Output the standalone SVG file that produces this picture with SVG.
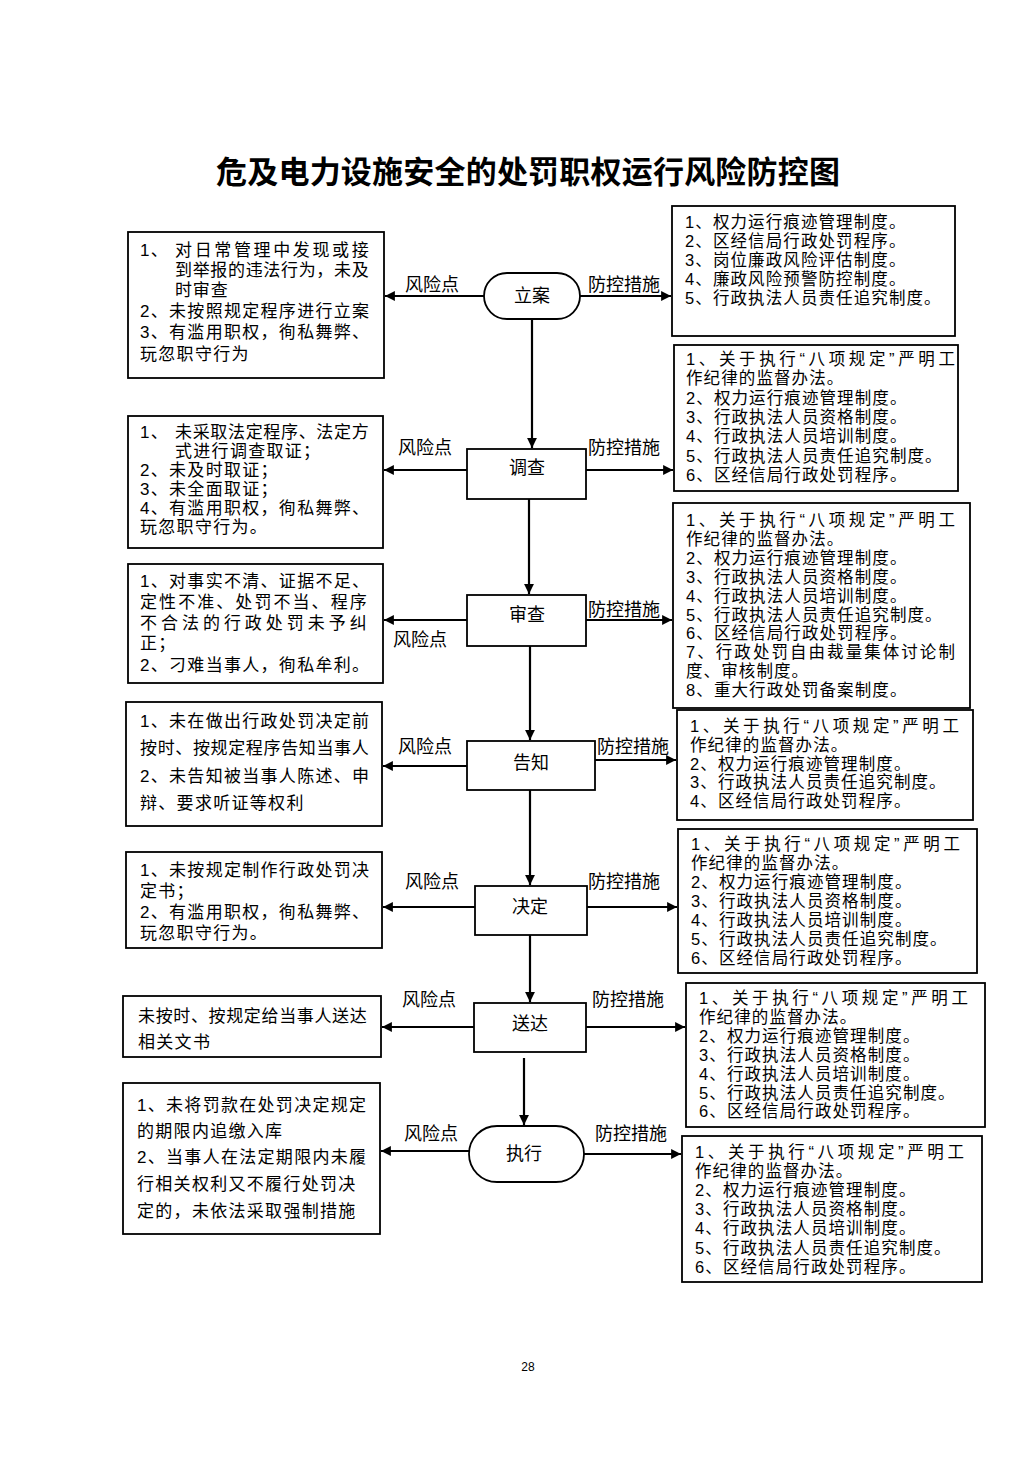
<svg xmlns="http://www.w3.org/2000/svg" width="1033" height="1461" viewBox="0 0 1033 1461">
<style>
.bg{fill:#fff}
.box{fill:#fff;stroke:#000;stroke-width:1.8}
.t{font-family:"Liberation Sans","Noto Sans CJK SC",sans-serif;font-size:17px;letter-spacing:1.3px;fill:#000}
.r{font-family:"Liberation Sans","Noto Sans CJK SC",sans-serif;font-size:16.5px;letter-spacing:1.1px;fill:#000}
.lb{font-family:"Liberation Sans","Noto Sans CJK SC",sans-serif;font-size:18px;fill:#000;text-anchor:middle}
.nd{font-family:"Liberation Sans","Noto Sans CJK SC",sans-serif;font-size:18px;fill:#000;text-anchor:middle}
.ttl{font-family:"Liberation Serif","Noto Sans CJK SC",serif;font-size:31px;font-weight:bold;fill:#000;text-anchor:middle}
.c{stroke:#000;stroke-width:2.2;fill:none}
</style>
<defs>
<marker id="ah" viewBox="0 0 10 10" refX="10" refY="5" markerWidth="5" markerHeight="4.5" orient="auto" markerUnits="strokeWidth">
<path d="M0,0 L10,5 L0,10 z" fill="#000"/>
</marker>
</defs>
<rect class="bg" x="0" y="0" width="1033" height="1461"/>
<text class="ttl" x="528" y="183" textLength="624" lengthAdjust="spacing">危及电力设施安全的处罚职权运行风险防控图</text>

<g id="connectors">
<line class="c" x1="532" y1="319" x2="532" y2="448" marker-end="url(#ah)"/>
<line class="c" x1="529" y1="499" x2="529" y2="594" marker-end="url(#ah)"/>
<line class="c" x1="530" y1="646" x2="530" y2="740" marker-end="url(#ah)"/>
<line class="c" x1="530" y1="790" x2="530" y2="885" marker-end="url(#ah)"/>
<line class="c" x1="530" y1="935" x2="530" y2="1002" marker-end="url(#ah)"/>
<line class="c" x1="524" y1="1058" x2="524" y2="1125" marker-end="url(#ah)"/>

<line class="c" x1="484" y1="296" x2="385" y2="296" marker-end="url(#ah)"/>
<line class="c" x1="580" y1="296" x2="671" y2="296" marker-end="url(#ah)"/>
<line class="c" x1="467" y1="470" x2="384" y2="470" marker-end="url(#ah)"/>
<line class="c" x1="586" y1="470" x2="673" y2="470" marker-end="url(#ah)"/>
<line class="c" x1="467" y1="620" x2="384" y2="620" marker-end="url(#ah)"/>
<line class="c" x1="586" y1="620" x2="672" y2="620" marker-end="url(#ah)"/>
<line class="c" x1="467" y1="766" x2="383" y2="766" marker-end="url(#ah)"/>
<line class="c" x1="595" y1="760" x2="676" y2="760" marker-end="url(#ah)"/>
<line class="c" x1="475" y1="907" x2="383" y2="907" marker-end="url(#ah)"/>
<line class="c" x1="587" y1="907" x2="677" y2="907" marker-end="url(#ah)"/>
<line class="c" x1="474" y1="1027" x2="382" y2="1027" marker-end="url(#ah)"/>
<line class="c" x1="586" y1="1027" x2="685" y2="1027" marker-end="url(#ah)"/>
<line class="c" x1="469" y1="1151" x2="381" y2="1151" marker-end="url(#ah)"/>
<line class="c" x1="584" y1="1154" x2="681" y2="1154" marker-end="url(#ah)"/>

<text class="lb" x="432" y="291">风险点</text>
<text class="lb" x="624" y="291">防控措施</text>
<text class="lb" x="425" y="454">风险点</text>
<text class="lb" x="624" y="454">防控措施</text>
<text class="lb" x="420" y="646">风险点</text>
<text class="lb" x="624" y="616">防控措施</text>
<text class="lb" x="425" y="753">风险点</text>
<text class="lb" x="633" y="753">防控措施</text>
<text class="lb" x="432" y="888">风险点</text>
<text class="lb" x="624" y="888">防控措施</text>
<text class="lb" x="429" y="1006">风险点</text>
<text class="lb" x="628" y="1006">防控措施</text>
<text class="lb" x="431" y="1140">风险点</text>
<text class="lb" x="631" y="1140">防控措施</text>
</g>

<g id="n-lian">
<rect class="box" x="484" y="273" width="96" height="46" rx="23"/>
<text class="nd" x="532" y="302">立案</text>
</g>
<g id="n-diaocha">
<rect class="box" x="467" y="449" width="119" height="50"/>
<text class="nd" x="527" y="474">调查</text>
</g>
<g id="n-shencha">
<rect class="box" x="467" y="595" width="119" height="51"/>
<text class="nd" x="527" y="621">审查</text>
</g>
<g id="n-gaozhi">
<rect class="box" x="467" y="741" width="128" height="49"/>
<text class="nd" x="531" y="769">告知</text>
</g>
<g id="n-jueding">
<rect class="box" x="475" y="886" width="112" height="49"/>
<text class="nd" x="530" y="913">决定</text>
</g>
<g id="n-songda">
<rect class="box" x="474" y="1003" width="112" height="49"/>
<text class="nd" x="530" y="1030">送达</text>
</g>
<g id="n-zhixing">
<rect class="box" x="469" y="1126" width="115" height="56" rx="28"/>
<text class="nd" x="524" y="1160">执行</text>
</g>

<g id="risk-1">
<rect class="box" x="128" y="232" width="256" height="146"/>
<text class="t" x="140" y="256">1、</text>
<text class="t" x="175" y="256" textLength="195" lengthAdjust="spacing">对日常管理中发现或接</text>
<text class="t" x="175" y="276" textLength="195" lengthAdjust="spacing">到举报的违法行为，未及</text>
<text class="t" x="175" y="296" textLength="54" lengthAdjust="spacing">时审查</text>
<text class="t" x="140" y="317">2、未按照规定程序进行立案</text>
<text class="t" x="140" y="338">3、有滥用职权，徇私舞弊、</text>
<text class="t" x="140" y="360">玩忽职守行为</text>
</g>
<g id="risk-2">
<rect class="box" x="128" y="416" width="255" height="132"/>
<text class="t" x="140" y="438">1、</text>
<text class="t" x="175" y="438" textLength="195" lengthAdjust="spacing">未采取法定程序、法定方</text>
<text class="t" x="175" y="457">式进行调查取证；</text>
<text class="t" x="140" y="476">2、未及时取证；</text>
<text class="t" x="140" y="495">3、未全面取证；</text>
<text class="t" x="140" y="514">4、有滥用职权，徇私舞弊、</text>
<text class="t" x="140" y="533">玩忽职守行为。</text>
</g>
<g id="risk-3">
<rect class="box" x="128" y="564" width="255" height="119"/>
<text class="t" x="140" y="587">1、对事实不清、证据不足、</text>
<text class="t" x="140" y="608" textLength="228" lengthAdjust="spacing">定性不准、处罚不当、程序</text>
<text class="t" x="140" y="629" textLength="228" lengthAdjust="spacing">不合法的行政处罚未予纠</text>
<text class="t" x="140" y="649">正；</text>
<text class="t" x="140" y="671">2、刁难当事人，徇私牟利。</text>
</g>
<g id="risk-4">
<rect class="box" x="126" y="702" width="256" height="124"/>
<text class="t" x="140" y="727">1、未在做出行政处罚决定前</text>
<text class="t" x="140" y="754" textLength="230" lengthAdjust="spacing">按时、按规定程序告知当事人</text>
<text class="t" x="140" y="782">2、未告知被当事人陈述、申</text>
<text class="t" x="140" y="809">辩、要求听证等权利</text>
</g>
<g id="risk-5">
<rect class="box" x="126" y="852" width="256" height="96"/>
<text class="t" x="140" y="876">1、未按规定制作行政处罚决</text>
<text class="t" x="140" y="897">定书；</text>
<text class="t" x="140" y="918">2、有滥用职权，徇私舞弊、</text>
<text class="t" x="140" y="939">玩忽职守行为。</text>
</g>
<g id="risk-6">
<rect class="box" x="123" y="996" width="258" height="61"/>
<text class="t" x="138" y="1022" textLength="230" lengthAdjust="spacing">未按时、按规定给当事人送达</text>
<text class="t" x="138" y="1048">相关文书</text>
</g>
<g id="risk-7">
<rect class="box" x="123" y="1083" width="257" height="151"/>
<text class="t" x="137" y="1111">1、未将罚款在处罚决定规定</text>
<text class="t" x="137" y="1137">的期限内追缴入库</text>
<text class="t" x="137" y="1163">2、当事人在法定期限内未履</text>
<text class="t" x="137" y="1190">行相关权利又不履行处罚决</text>
<text class="t" x="137" y="1217">定的，未依法采取强制措施</text>
</g>

<g id="measure-1">
<rect class="box" x="672" y="206" width="283" height="130"/>
<text class="r" x="685" y="228">1、权力运行痕迹管理制度。</text>
<text class="r" x="685" y="247">2、区经信局行政处罚程序。</text>
<text class="r" x="685" y="266">3、岗位廉政风险评估制度。</text>
<text class="r" x="685" y="285">4、廉政风险预警防控制度。</text>
<text class="r" x="685" y="304">5、行政执法人员责任追究制度。</text>
</g>
<g id="measure-2">
<rect class="box" x="674" y="345" width="284" height="146"/>
<text class="r" x="686" y="365" textLength="270" lengthAdjust="spacing">1、关于执行“八项规定”严明工</text>
<text class="r" x="686" y="384.3">作纪律的监督办法。</text>
<text class="r" x="686" y="403.6">2、权力运行痕迹管理制度。</text>
<text class="r" x="686" y="422.9">3、行政执法人员资格制度。</text>
<text class="r" x="686" y="442.2">4、行政执法人员培训制度。</text>
<text class="r" x="686" y="461.5">5、行政执法人员责任追究制度。</text>
<text class="r" x="686" y="480.8">6、区经信局行政处罚程序。</text>
</g>
<g id="measure-3">
<rect class="box" x="673" y="503" width="297" height="205"/>
<text class="r" x="686" y="526" textLength="270" lengthAdjust="spacing">1、关于执行“八项规定”严明工</text>
<text class="r" x="686" y="544.9">作纪律的监督办法。</text>
<text class="r" x="686" y="563.8">2、权力运行痕迹管理制度。</text>
<text class="r" x="686" y="582.7">3、行政执法人员资格制度。</text>
<text class="r" x="686" y="601.6">4、行政执法人员培训制度。</text>
<text class="r" x="686" y="620.5">5、行政执法人员责任追究制度。</text>
<text class="r" x="686" y="639.4">6、区经信局行政处罚程序。</text>
<text class="r" x="686" y="658.3" textLength="270" lengthAdjust="spacing">7、行政处罚自由裁量集体讨论制</text>
<text class="r" x="686" y="677.2">度、审核制度。</text>
<text class="r" x="686" y="696.1">8、重大行政处罚备案制度。</text>
</g>
<g id="measure-4">
<rect class="box" x="677" y="710" width="296" height="110"/>
<text class="r" x="690" y="732" textLength="270" lengthAdjust="spacing">1、关于执行“八项规定”严明工</text>
<text class="r" x="690" y="750.8">作纪律的监督办法。</text>
<text class="r" x="690" y="769.6">2、权力运行痕迹管理制度。</text>
<text class="r" x="690" y="788.4">3、行政执法人员责任追究制度。</text>
<text class="r" x="690" y="807.2">4、区经信局行政处罚程序。</text>
</g>
<g id="measure-5">
<rect class="box" x="678" y="829" width="299" height="144"/>
<text class="r" x="691" y="850" textLength="270" lengthAdjust="spacing">1、关于执行“八项规定”严明工</text>
<text class="r" x="691" y="869">作纪律的监督办法。</text>
<text class="r" x="691" y="888">2、权力运行痕迹管理制度。</text>
<text class="r" x="691" y="907">3、行政执法人员资格制度。</text>
<text class="r" x="691" y="926">4、行政执法人员培训制度。</text>
<text class="r" x="691" y="945">5、行政执法人员责任追究制度。</text>
<text class="r" x="691" y="964">6、区经信局行政处罚程序。</text>
</g>
<g id="measure-6">
<rect class="box" x="686" y="983" width="299" height="144"/>
<text class="r" x="699" y="1004" textLength="270" lengthAdjust="spacing">1、关于执行“八项规定”严明工</text>
<text class="r" x="699" y="1022.9">作纪律的监督办法。</text>
<text class="r" x="699" y="1041.8">2、权力运行痕迹管理制度。</text>
<text class="r" x="699" y="1060.7">3、行政执法人员资格制度。</text>
<text class="r" x="699" y="1079.6">4、行政执法人员培训制度。</text>
<text class="r" x="699" y="1098.5">5、行政执法人员责任追究制度。</text>
<text class="r" x="699" y="1117.4">6、区经信局行政处罚程序。</text>
</g>
<g id="measure-7">
<rect class="box" x="682" y="1136" width="300" height="146"/>
<text class="r" x="695" y="1158" textLength="270" lengthAdjust="spacing">1、关于执行“八项规定”严明工</text>
<text class="r" x="695" y="1177.1">作纪律的监督办法。</text>
<text class="r" x="695" y="1196.2">2、权力运行痕迹管理制度。</text>
<text class="r" x="695" y="1215.3">3、行政执法人员资格制度。</text>
<text class="r" x="695" y="1234.4">4、行政执法人员培训制度。</text>
<text class="r" x="695" y="1253.5">5、行政执法人员责任追究制度。</text>
<text class="r" x="695" y="1272.6">6、区经信局行政处罚程序。</text>
</g>

<text x="528" y="1371" style="font-family:'Liberation Sans',sans-serif;font-size:12px;text-anchor:middle">28</text>
</svg>
